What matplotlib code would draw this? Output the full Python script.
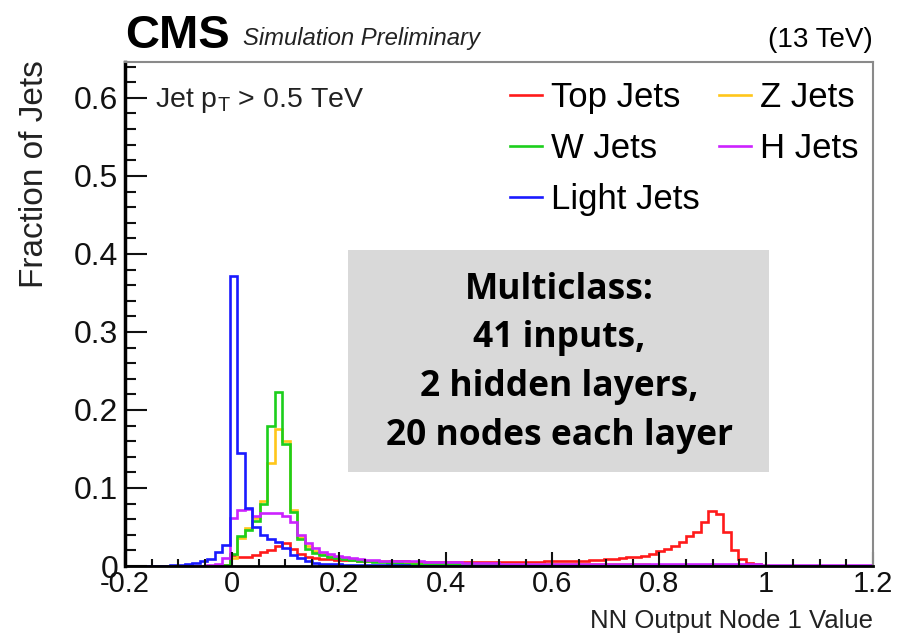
import numpy as np
import matplotlib.pyplot as plt
from matplotlib.lines import Line2D
from matplotlib.patches import Rectangle
from matplotlib.ticker import MultipleLocator

plt.rcParams['font.family'] = ['Liberation Sans', 'DejaVu Sans']
plt.rcParams['axes.unicode_minus'] = False

# 100 bins between -0.2 and 1.2
edges = np.linspace(-0.2, 1.2, 101)

top_jets = [
    0, 0, 0, 0, 0, 0, 0, 0, 0, 0,
    0, 0, 0, 0.001, 0.014, 0.011, 0.011, 0.014, 0.0175, 0.020,
    0.026, 0.030, 0.022, 0.016, 0.012, 0.010, 0.009, 0.009, 0.008, 0.008,
    0.008, 0.007, 0.007, 0.007, 0.006, 0.006, 0.006, 0.006, 0.005, 0.005,
    0.005, 0.005, 0.005, 0.005, 0.005, 0.005, 0.005, 0.005, 0.005, 0.005,
    0.005, 0.005, 0.005, 0.005, 0.005, 0.005, 0.006, 0.006, 0.006, 0.007,
    0.007, 0.007, 0.008, 0.008, 0.009, 0.009, 0.010, 0.011, 0.012, 0.0125,
    0.016, 0.019, 0.022, 0.026, 0.031, 0.038, 0.044, 0.057, 0.070, 0.067,
    0.044, 0.021, 0.009, 0.004, 0.002, 0, 0, 0, 0, 0,
    0, 0, 0, 0, 0, 0, 0, 0, 0, 0,
]
z_jets = [
    0, 0, 0, 0, 0, 0, 0, 0, 0, 0,
    0, 0, 0, 0.001, 0.010, 0.036, 0.049, 0.062, 0.083, 0.132,
    0.175, 0.160, 0.072, 0.037, 0.025, 0.019, 0.016, 0.013, 0.011, 0.010,
    0.009, 0.008, 0.007, 0.006, 0.006, 0.005, 0.005, 0.004, 0.004, 0.003,
    0.003, 0.003, 0.003, 0.003, 0.003, 0.003, 0.003, 0.003, 0.003, 0.003,
    0.002, 0.002, 0.002, 0.002, 0.002, 0.002, 0.002, 0.002, 0.002, 0.002,
    0.002, 0.002, 0.002, 0.002, 0.002, 0.002, 0.002, 0.002, 0.002, 0.002,
    0.001, 0.001, 0.001, 0.001, 0.001, 0.001, 0.001, 0.001, 0.001, 0.001,
    0.001, 0.001, 0.001, 0.001, 0.001, 0.001, 0, 0, 0, 0,
    0, 0, 0, 0, 0, 0, 0, 0, 0, 0,
]
w_jets = [
    0, 0, 0, 0, 0, 0, 0, 0, 0, 0,
    0, 0, 0, 0.001, 0.015, 0.039, 0.046, 0.058, 0.079, 0.179,
    0.223, 0.157, 0.069, 0.034, 0.022, 0.017, 0.014, 0.012, 0.010, 0.009,
    0.008, 0.007, 0.006, 0.005, 0.005, 0.004, 0.004, 0.003, 0.003, 0.003,
    0.002, 0.002, 0.002, 0.002, 0.002, 0.002, 0.002, 0.002, 0.002, 0.002,
    0.001, 0.001, 0.001, 0.001, 0.001, 0.001, 0.001, 0.001, 0.001, 0.001,
    0.001, 0.001, 0.001, 0.001, 0.001, 0.001, 0.001, 0.001, 0.001, 0.001,
    0.0005, 0.0005, 0.0005, 0.0005, 0.0005, 0.0005, 0.0005, 0.0005, 0.0005, 0.0005,
    0, 0, 0, 0, 0, 0, 0, 0, 0, 0,
    0, 0, 0, 0, 0, 0, 0, 0, 0, 0,
]
h_jets = [
    0, 0, 0, 0, 0, 0, 0, 0, 0, 0,
    0, 0.001, 0.003, 0.010, 0.061, 0.072, 0.073, 0.064, 0.068, 0.068,
    0.068, 0.064, 0.057, 0.040, 0.030, 0.023, 0.018, 0.015, 0.013, 0.011,
    0.010, 0.009, 0.008, 0.008, 0.007, 0.007, 0.006, 0.006, 0.006, 0.006,
    0.005, 0.005, 0.005, 0.005, 0.005, 0.004, 0.004, 0.004, 0.004, 0.004,
    0.003, 0.003, 0.003, 0.003, 0.003, 0.003, 0.003, 0.003, 0.003, 0.003,
    0.002, 0.002, 0.002, 0.002, 0.002, 0.002, 0.002, 0.002, 0.002, 0.002,
    0.002, 0.002, 0.002, 0.002, 0.002, 0.002, 0.002, 0.002, 0.002, 0.002,
    0.002, 0.002, 0.002, 0.002, 0.002, 0.001, 0.001, 0.001, 0.001, 0.001,
    0.001, 0.001, 0.001, 0.001, 0.001, 0.001, 0.001, 0.001, 0.001, 0.001,
]
light_jets = [
    0, 0, 0, 0, 0, 0, 0.001, 0.001, 0.002, 0.004,
    0.006, 0.009, 0.018, 0.027, 0.372, 0.145, 0.074, 0.050, 0.040, 0.034,
    0.031, 0.023, 0.014, 0.010, 0.006, 0.004, 0.003, 0.002, 0.002, 0.0015,
    0.001, 0.001, 0.001, 0.001, 0.001, 0.001, 0.001, 0.001, 0.0005, 0.0005,
    0.0005, 0.0005, 0.0005, 0.0005, 0.0005, 0.0005, 0.0005, 0.0005, 0.0005, 0.0005,
    0.0005, 0.0005, 0.0005, 0.0005, 0.0005, 0.0005, 0, 0, 0, 0,
    0, 0, 0, 0, 0, 0, 0, 0, 0, 0,
    0, 0, 0, 0, 0, 0, 0, 0, 0, 0,
    0, 0, 0, 0, 0, 0, 0, 0, 0, 0,
    0, 0, 0, 0, 0, 0, 0, 0, 0, 0,
]

labels = ['Top Jets', 'W Jets', 'Light Jets', 'Z Jets', 'H Jets']
colors = {'Top Jets': '#ff1a1a', 'Z Jets': '#ffc61a', 'W Jets': '#1ccf1c',
          'H Jets': '#cc22ff', 'Light Jets': '#1a1aff'}
series = [('Top Jets', top_jets), ('Z Jets', z_jets), ('W Jets', w_jets),
          ('H Jets', h_jets), ('Light Jets', light_jets)]

xticks = [-0.2, 0, 0.2, 0.4, 0.6, 0.8, 1, 1.2]
xticklabels = ['-0.2', '0', '0.2', '0.4', '0.6', '0.8', '1', '1.2']
yticks = [0, 0.1, 0.2, 0.3, 0.4, 0.5, 0.6]
yticklabels = ['0', '0.1', '0.2', '0.3', '0.4', '0.5', '0.6']

W, H = 906, 639


def px(x, y):
    return x / W, 1 - y / H


fig = plt.figure(figsize=(W / 100, H / 100), dpi=100)
ax = fig.add_axes([125 / W, 1 - 566 / H, 748 / W, 504 / H])

for name, vals in series:
    ax.stairs(vals, edges, color=colors[name], linewidth=1.9)

ax.set_xlim(-0.2, 1.2)
ax.set_ylim(0, 0.646)

ax.set_xticks(xticks)
ax.set_xticklabels(xticklabels)
ax.set_yticks(yticks)
ax.set_yticklabels(yticklabels)
ax.xaxis.set_minor_locator(MultipleLocator(0.05))
ax.yaxis.set_minor_locator(MultipleLocator(0.02))
ax.tick_params(axis='x', which='both', direction='in', top=False, labelsize=21,
               pad=3, width=1.5, colors='#111111')
ax.tick_params(axis='x', which='major', length=10)
ax.tick_params(axis='x', which='minor', length=5)
ax.tick_params(axis='y', which='both', direction='in', right=False, labelsize=23,
               pad=5, width=1.5, colors='#111111')
ax.tick_params(axis='y', which='major', length=16)
ax.tick_params(axis='y', which='minor', length=8)

ax.spines['left'].set_linewidth(2.5)
ax.spines['bottom'].set_linewidth(2)
ax.spines['top'].set_color('#8a8a8a')
ax.spines['right'].set_color('#8a8a8a')
ax.spines['top'].set_linewidth(1.5)
ax.spines['right'].set_linewidth(1.5)

# axis titles, ROOT style (aligned to the far end)
fig.text(*px(35, 60), 'Fraction of Jets', rotation=90, ha='center', va='top',
         fontsize=24, color='#222222')
fig.text(*px(873, 621), 'NN Output Node 1 Value', ha='right', va='center',
         fontsize=18.5, color='#222222')

# header
fig.text(*px(125, 48), 'CMS', fontsize=34, fontweight='bold', va='baseline')
fig.text(*px(243, 45), 'Simulation Preliminary', fontsize=17.2, style='italic',
         va='baseline', color='#222222')
fig.text(*px(873, 47), '(13 TeV)', fontsize=20, ha='right', va='baseline')

fig.text(*px(155, 107), r'Jet p$_{\mathregular{T}}$ > 0.5 TeV', fontsize=20.5,
         va='baseline', color='#222222')

handles = [Line2D([], [], color=colors[l], linewidth=1.9) for l in labels]
ax.legend(handles, labels, ncol=2, loc='upper left', frameon=False,
          bbox_to_anchor=px(510, 81), bbox_transform=fig.transFigure,
          fontsize=25, borderpad=0, borderaxespad=0, handlelength=0.92,
          handletextpad=0.26, columnspacing=0.56, labelspacing=0.52)

# grey annotation box
fig.patches.append(Rectangle(px(348, 472), 421 / W, 222 / H, transform=fig.transFigure,
                             facecolor='#d9d9d9', edgecolor='none', zorder=3))
box_lines = ['Multiclass:', '41 inputs,', '2 hidden layers,', '20 nodes each layer']
for i, line in enumerate(box_lines):
    fig.text(*px(559, 299 + 48.5 * i), line, ha='center', va='baseline',
             fontsize=25.5, fontweight='bold', family='Open Sans', zorder=4)

fig.savefig('out.png', dpi=100)
